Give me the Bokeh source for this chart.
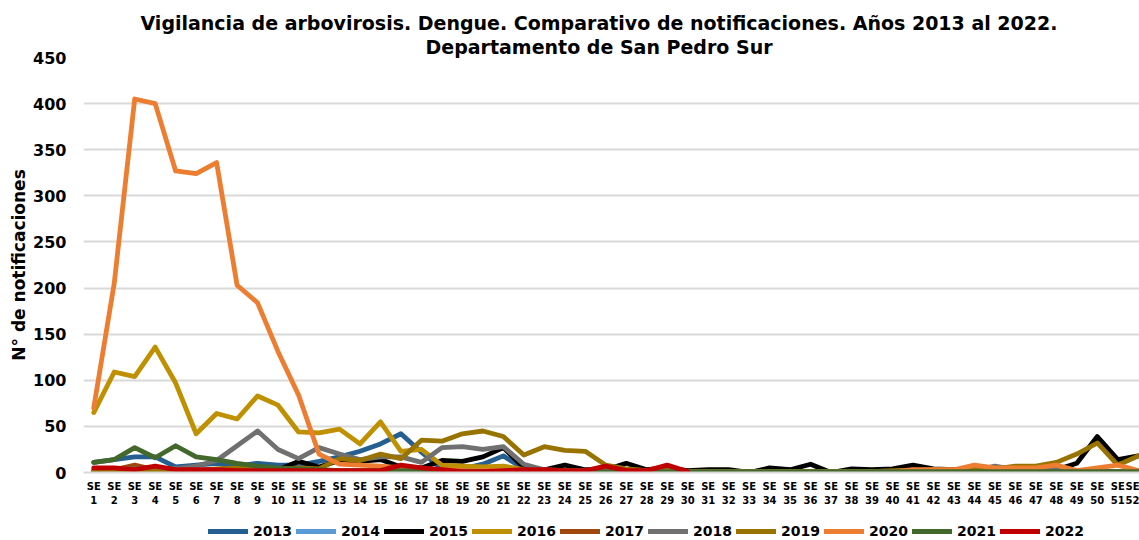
from bokeh.plotting import figure
from bokeh.layouts import column
from bokeh.models import Range1d, FixedTicker, Title, Legend, LegendItem
from bokeh.embed import file_html
from bokeh.resources import INLINE

weeks = list(range(1, 53))
week_labels = {w: "SE\n" + str(w) for w in weeks}
y_ticks = [0, 50, 100, 150, 200, 250, 300, 350, 400, 450]

d2013 = [11, 14, 17, 17, 6, 8, 10, 7, 10, 8, 8, 12, 17, 23, 31, 42, 22, 4, 4, 9,
         18, 4, 2, 2, 2, 2, 1, 1, 1, 1, 1, 1, 0, 1, 1, 1, 0, 1, 1, 1,
         1, 1, 1, 1, 1, 1, 1, 3, 1, 1, 1, 1]
d2014 = [2, 3, 2, 3, 4, 3, 2, 2, 1, 1, 1, 1, 1, 1, 1, 1, 1, 1, 1, 1,
         1, 1, 1, 1, 1, 1, 1, 1, 1, 1, 0, 0, 0, 0, 0, 0, 0, 0, 0, 0,
         0, 0, 0, 0, 0, 0, 0, 0, 0, 0, 0, 0]
d2015 = [1, 1, 0, 1, 1, 1, 2, 2, 2, 3, 12, 6, 13, 12, 14, 6, 5, 13, 12, 17,
         27, 5, 3, 8, 3, 3, 10, 3, 5, 2, 3, 3, 0, 5, 3, 9, 0, 4, 3, 4,
         8, 4, 3, 3, 3, 3, 3, 3, 10, 39, 14, 18]
d2016 = [65, 109, 104, 136, 97, 42, 64, 58, 83, 73, 44, 43, 47, 31, 55, 23, 25, 8, 7, 6,
         7, 3, 2, 2, 2, 1, 1, 1, 1, 1, 1, 1, 1, 1, 1, 1, 1, 1, 1, 1,
         1, 1, 1, 1, 1, 1, 1, 1, 1, 1, 1, 1]
d2017 = [2, 3, 8, 3, 2, 2, 3, 2, 2, 2, 2, 2, 1, 1, 1, 1, 1, 1, 1, 1,
         1, 1, 1, 1, 1, 1, 1, 1, 1, 1, 1, 1, 1, 1, 1, 1, 1, 1, 1, 1,
         1, 1, 1, 1, 1, 1, 1, 1, 1, 1, 1, 1]
d2018 = [3, 4, 4, 5, 4, 7, 13, 29, 45, 25, 15, 27, 20, 14, 17, 17, 11, 27, 28, 25,
         28, 9, 3, 2, 2, 3, 3, 2, 2, 1, 1, 1, 1, 1, 1, 1, 1, 1, 1, 1,
         1, 1, 2, 2, 7, 3, 3, 5, 1, 1, 1, 1]
d2019 = [1, 1, 2, 2, 2, 2, 4, 5, 4, 3, 5, 4, 15, 13, 20, 15, 35, 34, 42, 45,
         39, 19, 28, 24, 23, 8, 4, 2, 2, 1, 1, 1, 1, 1, 1, 1, 1, 1, 1, 2,
         2, 3, 3, 3, 4, 7, 7, 11, 20, 32, 8, 18]
d2020 = [70, 205, 405, 400, 327, 324, 336, 203, 184, 131, 84, 20, 9, 8, 7, 5, 4, 3, 2, 2,
         2, 1, 1, 1, 1, 1, 1, 1, 1, 1, 1, 1, 1, 1, 1, 1, 1, 1, 1, 1,
         3, 3, 3, 8, 5, 5, 5, 8, 2, 5, 8, 2]
d2021 = [11, 14, 27, 16, 29, 17, 14, 10, 7, 5, 4, 3, 2, 2, 2, 2, 2, 1, 1, 1,
         1, 1, 1, 1, 1, 1, 1, 1, 1, 1, 1, 1, 1, 1, 1, 1, 1, 1, 1, 1,
         1, 1, 1, 1, 1, 1, 1, 1, 1, 1, 1, 1]
d2022 = [5, 5, 3, 7, 3, 3, 3, 2, 2, 2, 2, 2, 2, 2, 2, 8, 5, 3, 1, 1,
         2, 3, 3, 2, 2, 7, 2, 2, 8, 1]

years = ["2013", "2014", "2015", "2016", "2017", "2018", "2019", "2020", "2021", "2022"]
series = [d2013, d2014, d2015, d2016, d2017, d2018, d2019, d2020, d2021, d2022]
colors = ["#255E91", "#5B9BD5", "#000000", "#BF9000", "#9E480E",
          "#707070", "#997300", "#ED7D31", "#43682B", "#C00000"]

FONT = "DejaVu Sans"
W = 1139

p = figure(width=W, height=522, output_backend="svg", toolbar_location=None,
           x_range=Range1d(0.5, 52.06), y_range=Range1d(0, 450), title=None,
           min_border_left=83, min_border_right=0, min_border_top=57, min_border_bottom=50)
p.outline_line_color = None
p.background_fill_color = "white"
p.border_fill_color = "white"

t2 = Title(text="Departamento de San Pedro Sur", align="left",
           text_font=FONT, text_font_size="19px", text_font_style="bold",
           text_color="#000000", standoff=0, offset=342)
t1 = Title(text="Vigilancia de arbovirosis. Dengue. Comparativo de notificaciones. Años 2013 al 2022.",
           align="left", text_font=FONT, text_font_size="19px", text_font_style="bold",
           text_color="#000000", standoff=0, offset=57)
p.add_layout(t2, "above")
p.add_layout(t1, "above")

p.xgrid.visible = False
p.ygrid.grid_line_color = "#D9D9D9"
p.ygrid.grid_line_width = 2
p.yaxis.ticker = FixedTicker(ticks=y_ticks)
p.yaxis.axis_line_color = None
p.yaxis.major_tick_line_color = None
p.yaxis.minor_tick_line_color = None
p.yaxis.major_tick_out = 0
p.yaxis.major_label_text_font = FONT
p.yaxis.major_label_text_font_size = "16px"
p.yaxis.major_label_text_font_style = "bold"
p.yaxis.major_label_text_color = "#000000"
p.yaxis.major_label_standoff = 17
p.yaxis.axis_label = "N° de notificaciones"
p.yaxis.axis_label_text_font = FONT
p.yaxis.axis_label_text_font_size = "17px"
p.yaxis.axis_label_text_font_style = "bold"
p.yaxis.axis_label_text_color = "#000000"
p.yaxis.axis_label_standoff = 1

p.xaxis.ticker = FixedTicker(ticks=weeks)
p.xaxis.major_label_overrides = week_labels
p.xaxis.axis_line_color = "#D9D9D9"
p.xaxis.axis_line_width = 2
p.xaxis.major_tick_line_color = None
p.xaxis.minor_tick_line_color = None
p.xaxis.major_tick_out = 0
p.xaxis.major_label_text_font = FONT
p.xaxis.major_label_text_font_size = "10px"
p.xaxis.major_label_text_font_style = "bold"
p.xaxis.major_label_text_color = "#000000"
p.xaxis.major_label_text_line_height = 1.3
p.xaxis.major_label_standoff = 8

for data, col in zip(series, colors):
    p.line(weeks[:len(data)], data, line_color=col, line_width=4.8,
           line_join="round", line_cap="round")

# legend strip (its lines lie outside its own visible range; only the legend shows)
lg = figure(width=W, height=18, output_backend="svg", toolbar_location=None,
            x_range=Range1d(0, 1), y_range=Range1d(1000, 1001), title=None,
            x_axis_type=None, y_axis_type=None,
            min_border_left=0, min_border_right=0, min_border_top=0, min_border_bottom=0)
lg.outline_line_color = None
lg.xgrid.visible = False
lg.ygrid.visible = False
items = []
for yr, data, col in zip(years, series, colors):
    r = lg.line(weeks[:len(data)], data, line_color=col, line_width=5, line_cap="round")
    items.append(LegendItem(label=yr, renderers=[r]))

legend = Legend(items=items, orientation="horizontal", location=(125, 0),
                border_line_color=None, background_fill_alpha=0, padding=0, margin=0,
                spacing=4, glyph_width=40, glyph_height=18, label_standoff=5,
                label_width=39, label_text_font=FONT, label_text_font_size="14px",
                label_text_font_style="bold", label_text_color="#000000")
lg.add_layout(legend)

layout = column(p, lg, spacing=0)
open("out.html", "w").write(file_html(layout, INLINE))
